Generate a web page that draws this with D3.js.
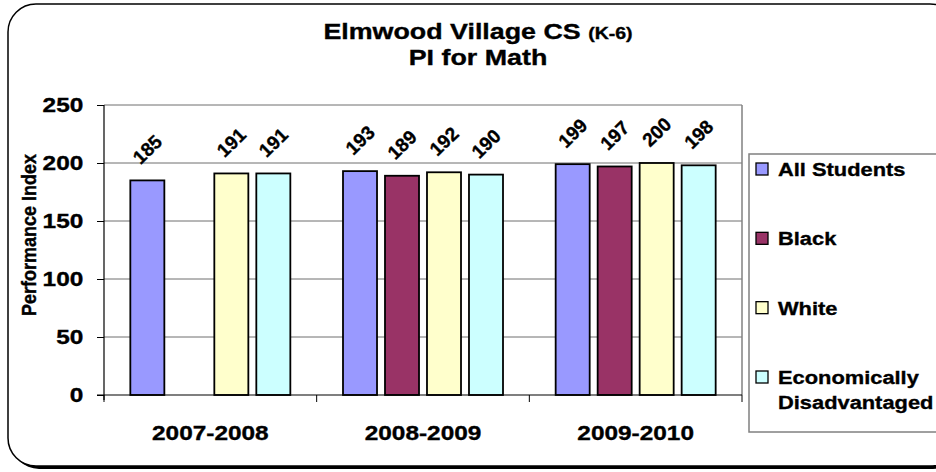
<!DOCTYPE html>
<html>
<head>
<meta charset="utf-8">
<script src="https://cdn.jsdelivr.net/npm/d3@7"></script>
<style>
  html, body { margin: 0; padding: 0; background: #fff; }
  svg { display: block; font-family: Arial, "Liberation Sans", sans-serif; }
  svg text { stroke: #000; stroke-width: 0.35px; }
</style>
</head>
<body>
<svg id="chart" width="936" height="472"></svg>
<script>
const categories = ["2007-2008", "2008-2009", "2009-2010"];
const seriesNames = ["All Students", "Black", "White", "Economically Disadvantaged"];
const allStudents = [185, 193, 199];
const black = [null, 189, 197];
const white = [191, 192, 200];
const econDisadv = [191, 190, 198];
const yTicks = [0, 50, 100, 150, 200, 250];
const colors = ["#9999FF", "#993366", "#FFFFCC", "#CCFFFF"];
const titleMain = "Elmwood Village CS";
const titleSub = "(K-6)";
const titleLine2 = "PI for Math";
const yTitle = "Performance Index";

const seriesValues = [allStudents, black, white, econDisadv];
const SX = 1.22; // horizontal stretch of the original rendering

const svg = d3.select("#chart");

// outer frame with shadow
svg.append("rect").attr("x", 11).attr("y", 7).attr("width", 950).attr("height", 462)
  .attr("rx", 28).attr("fill", "#000");
svg.append("rect").attr("x", 8).attr("y", 4).attr("width", 950).attr("height", 462)
  .attr("rx", 28).attr("fill", "#fff").attr("stroke", "#000").attr("stroke-width", 1.5);

const plot = { left: 104, right: 742, top: 105, bottom: 395 };

const x = d3.scaleBand().domain(categories).range([plot.left, plot.right]).padding(0);
const xi = d3.scaleBand().domain(seriesNames).range([0, x.bandwidth()])
  .paddingInner(0.19).paddingOuter(0.627);
const y = d3.scaleLinear().domain([0, 250]).range([plot.bottom, plot.top]);

// gridlines
svg.append("g").selectAll("line").data(yTicks.filter(d => d > 0)).join("line")
  .attr("x1", plot.left).attr("x2", plot.right)
  .attr("y1", d => y(d)).attr("y2", d => y(d))
  .attr("stroke", "#6e6e6e").attr("stroke-width", 1);
// plot border right
svg.append("line").attr("x1", plot.right).attr("x2", plot.right)
  .attr("y1", plot.top).attr("y2", plot.bottom)
  .attr("stroke", "#808080").attr("stroke-width", 1.5);

// bars
const barData = [];
categories.forEach((c, ci) => {
  seriesNames.forEach((s, si) => {
    const v = seriesValues[si][ci];
    if (v != null) barData.push({ c, s, si, v });
  });
});
const gBars = svg.append("g");
gBars.selectAll("rect").data(barData).join("rect")
  .attr("x", d => x(d.c) + xi(d.s))
  .attr("y", d => y(d.v))
  .attr("width", xi.bandwidth())
  .attr("height", d => y(0) - y(d.v))
  .attr("fill", d => colors[d.si])
  .attr("stroke", "#000").attr("stroke-width", 1.8);

// data labels
gBars.selectAll("text").data(barData).join("text")
  .attr("transform", d => `translate(${x(d.c) + xi(d.s) + xi.bandwidth() / 2},${y(d.v) - 31}) rotate(-44)`)
  .attr("text-anchor", "middle").attr("dy", "0.35em")
  .attr("font-size", 19).attr("font-weight", "bold").attr("fill", "#000")
  .text(d => d.v);

// y axis
const yAxis = svg.append("g").attr("transform", `translate(${plot.left},0)`)
  .call(d3.axisLeft(y).tickValues(yTicks).tickSize(7).tickPadding(10));
yAxis.select(".domain").attr("stroke", "#000").attr("stroke-width", 1.2)
  .attr("d", `M0,${plot.top}V${plot.bottom + 5}`);
yAxis.selectAll(".tick line").attr("stroke", "#000");
yAxis.selectAll(".tick text")
  .attr("font-size", 20).attr("font-weight", "bold").attr("font-family", "Arial, 'Liberation Sans', sans-serif")
  .attr("fill", "#000").attr("transform", `scale(${SX},1)`);

// x axis
const xAxis = svg.append("g").attr("transform", `translate(0,${plot.bottom})`)
  .call(d3.axisBottom(x).tickSize(0).tickPadding(31));
xAxis.select(".domain").attr("stroke", "#000").attr("stroke-width", 1.2)
  .attr("d", `M${plot.left - 7},0H${plot.right}`);
xAxis.selectAll(".tick text")
  .attr("font-size", 20).attr("font-weight", "bold").attr("font-family", "Arial, 'Liberation Sans', sans-serif")
  .attr("fill", "#000").attr("transform", `scale(${SX},1)`);
// category boundary ticks
const bounds = categories.map(c => x(c)).concat([x(categories[categories.length - 1]) + x.bandwidth()]);
xAxis.append("g").selectAll("line").data(bounds).join("line")
  .attr("x1", d => d).attr("x2", d => d).attr("y1", 0).attr("y2", 7)
  .attr("stroke", "#000").attr("stroke-width", 1);

// y axis title
svg.append("text")
  .attr("transform", `translate(29,${(plot.top + plot.bottom) / 2 - 15}) scale(1.15,1) rotate(-90)`)
  .attr("text-anchor", "middle").attr("dy", "0.35em")
  .attr("font-size", 18).attr("font-weight", "bold").attr("fill", "#000")
  .text(yTitle);

// title
const t1 = svg.append("text")
  .attr("transform", `translate(478,39) scale(${SX},1)`)
  .attr("text-anchor", "middle").attr("font-weight", "bold").attr("fill", "#000");
t1.append("tspan").attr("font-size", 22).text(titleMain + " ");
t1.append("tspan").attr("font-size", 16).text(titleSub);
svg.append("text")
  .attr("transform", `translate(478,65) scale(${SX},1)`)
  .attr("text-anchor", "middle").attr("font-weight", "bold").attr("font-size", 22)
  .attr("fill", "#000").text(titleLine2);

// legend
const legend = svg.append("g");
legend.append("rect").attr("x", 749).attr("y", 154).attr("width", 220).attr("height", 278)
  .attr("fill", "#fff").attr("stroke", "#808080").attr("stroke-width", 1.5);
const legendRowY = d3.scalePoint().domain(seriesNames).range([169, 377]);
const lg = legend.selectAll("g.item").data(seriesNames).join("g").attr("class", "item")
  .attr("transform", d => `translate(0,${legendRowY(d)})`);
lg.append("rect").attr("x", 756).attr("y", -6).attr("width", 12).attr("height", 12)
  .attr("fill", (d, i) => colors[i]).attr("stroke", "#000").attr("stroke-width", 1.3);
lg.each(function (d) {
  const words = d === "Economically Disadvantaged" ? ["Economically", "Disadvantaged"] : [d];
  const t = d3.select(this).append("text")
    .attr("transform", `translate(778,7) scale(1.15,1)`)
    .attr("font-size", 19).attr("font-weight", "bold").attr("fill", "#000");
  words.forEach((w, wi) => {
    t.append("tspan").attr("x", 0).attr("dy", wi === 0 ? 0 : 25).text(w);
  });
});
</script>
</body>
</html>
